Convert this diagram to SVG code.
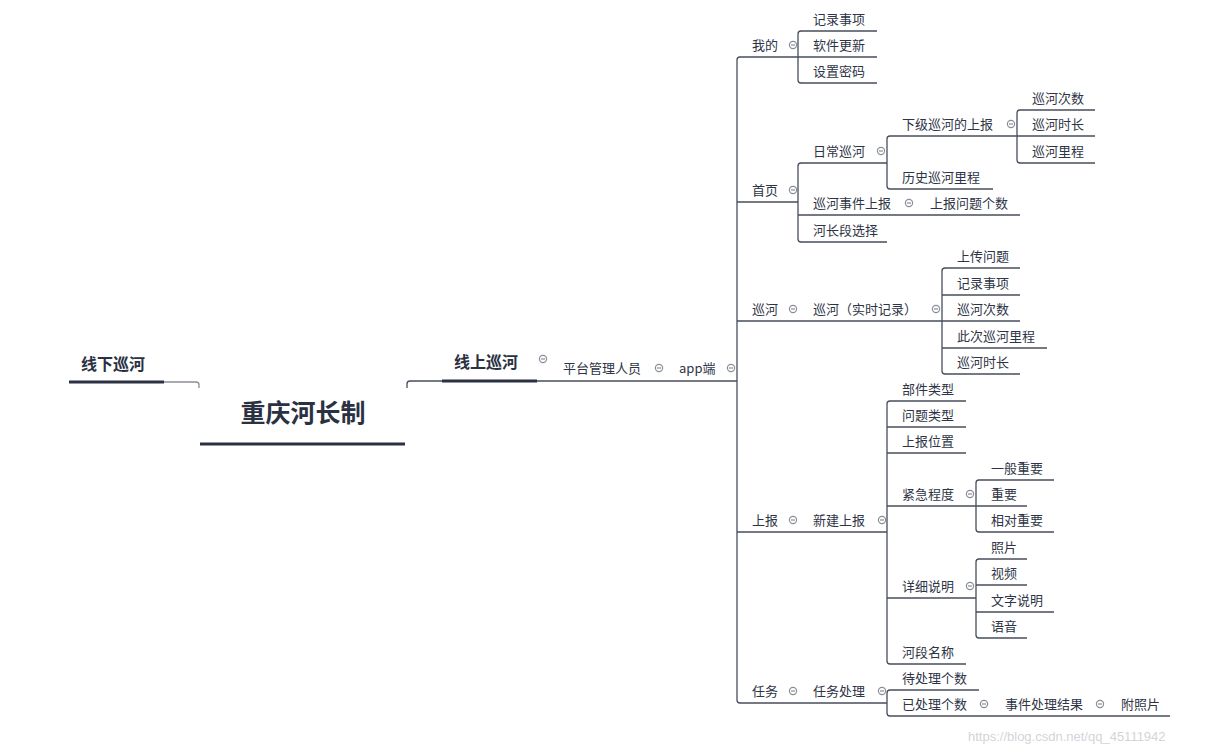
<svg xmlns="http://www.w3.org/2000/svg" width="1220" height="755" viewBox="0 0 1220 755">
<style>
text{font-family:"Noto Sans CJK SC","Liberation Sans",sans-serif;font-size:13px;fill:#2e3445}
.b{font-weight:bold;font-size:16px;fill:#2a3142}
.c{font-weight:bold;font-size:25px;fill:#2a3142}
.l{fill:none;stroke:#474d5c;stroke-width:1.3}
.t{fill:none;stroke:#2a3142;stroke-width:3}
.o{fill:#fff;stroke:#8a8e98;stroke-width:1.2}
.w{font-family:"Liberation Sans",sans-serif;font-size:13px;fill:#d4d4d8}
</style>
<defs>
<g id="m"><circle class="o" r="3.6"/><path d="M-2,0H2" stroke="#8a8e98" stroke-width="1.2"/></g>
</defs>
<rect width="1220" height="755" fill="#fff"/>
<g id="connectors">
<path class="t" d="M200,444H405"/>
<path class="t" d="M69,382H164"/>
<path d="M164,382H196Q199,382 199,385V388" fill="none" stroke="#8a8e98" stroke-width="1.3"/>
<path class="t" d="M442,381H537"/>
<path class="l" d="M407,388V384Q407,381 410,381H442M537,381H737"/>
<!-- app端 bracket -->
<path class="l" d="M737,60V700"/>
<path class="l" d="M737,60Q737,57 740,57H798M737,202H798M737,321H942M737,532H887M737,700Q737,703 740,703H887"/>
<!-- 我的 -->
<path class="l" d="M798,34V80M798,34Q798,31 801,31H877M798,57H877M798,80Q798,83 801,83H877"/>
<!-- 首页 -->
<path class="l" d="M798,166V239M798,166Q798,163 801,163H887M798,215H1020M798,239Q798,242 801,242H887"/>
<path class="l" d="M887,139V186M887,139Q887,136 890,136H1017M887,186Q887,189 890,189H993"/>
<path class="l" d="M1017,113V160M1017,113Q1017,110 1020,110H1095M1017,136H1095M1017,160Q1017,163 1020,163H1095"/>
<!-- 巡河 -->
<path class="l" d="M942,271V371M942,271Q942,268 945,268H1020M942,295H1020M942,321H1020M942,348H1047M942,371Q942,374 945,374H1020"/>
<!-- 上报 -->
<path class="l" d="M887,404V661M887,404Q887,401 890,401H966M887,427H966M887,453H966M887,506H976M887,598H976M887,661Q887,664 890,664H966"/>
<path class="l" d="M976,483V529M976,483Q976,480 979,480H1054M976,506H1027M976,529Q976,532 979,532H1054"/>
<path class="l" d="M976,562V635M976,562Q976,559 979,559H1027M976,585H1027M976,612H1054M976,635Q976,638 979,638H1027"/>
<!-- 任务 -->
<path class="l" d="M887,693V713M887,693Q887,690 890,690H979M887,713Q887,716 890,716H1170"/>
</g>
<g id="root"><text class="c" x="303" y="422" text-anchor="middle">重庆河长制</text></g>
<g id="offline"><text class="b" x="81" y="370">线下巡河</text></g>
<g id="online"><text class="b" x="454" y="368">线上巡河</text><use href="#m" x="543" y="359"/></g>
<g id="platform"><text x="563" y="373">平台管理人员</text><use href="#m" x="659" y="368"/></g>
<g id="app"><text x="679" y="373">app端</text><use href="#m" x="731" y="368"/></g>
<g id="wode"><text x="752" y="50">我的</text><use href="#m" x="793" y="45"/></g>
<g id="n1"><text x="813" y="24">记录事项</text></g>
<g id="n2"><text x="813" y="50">软件更新</text></g>
<g id="n3"><text x="813" y="76">设置密码</text></g>
<g id="shouye"><text x="752" y="195">首页</text><use href="#m" x="793" y="190"/></g>
<g id="richang"><text x="813" y="156">日常巡河</text><use href="#m" x="881" y="151"/></g>
<g id="xiaji"><text x="902" y="129">下级巡河的上报</text><use href="#m" x="1011" y="124"/></g>
<g id="n4"><text x="1032" y="103">巡河次数</text></g>
<g id="n5"><text x="1032" y="129">巡河时长</text></g>
<g id="n6"><text x="1032" y="156">巡河里程</text></g>
<g id="lishi"><text x="902" y="182">历史巡河里程</text></g>
<g id="shijian"><text x="813" y="208">巡河事件上报</text><use href="#m" x="909" y="203"/></g>
<g id="wenti"><text x="930" y="208">上报问题个数</text></g>
<g id="hezhang"><text x="813" y="235">河长段选择</text></g>
<g id="xunhe"><text x="752" y="314">巡河</text><use href="#m" x="793" y="309"/></g>
<g id="shishi"><text x="813" y="314">巡河（实时记录）</text><use href="#m" x="936" y="309"/></g>
<g id="n7"><text x="957" y="261">上传问题</text></g>
<g id="n8"><text x="957" y="288">记录事项</text></g>
<g id="n9"><text x="957" y="314">巡河次数</text></g>
<g id="n10"><text x="957" y="341">此次巡河里程</text></g>
<g id="n11"><text x="957" y="367">巡河时长</text></g>
<g id="shangbao"><text x="752" y="525">上报</text><use href="#m" x="793" y="520"/></g>
<g id="xinjian"><text x="813" y="525">新建上报</text><use href="#m" x="882" y="520"/></g>
<g id="n12"><text x="902" y="394">部件类型</text></g>
<g id="n13"><text x="902" y="420">问题类型</text></g>
<g id="n14"><text x="902" y="446">上报位置</text></g>
<g id="jinji"><text x="902" y="499">紧急程度</text><use href="#m" x="970" y="494"/></g>
<g id="n15"><text x="991" y="473">一般重要</text></g>
<g id="n16"><text x="991" y="499">重要</text></g>
<g id="n17"><text x="991" y="525">相对重要</text></g>
<g id="xiangxi"><text x="902" y="591">详细说明</text><use href="#m" x="970" y="586"/></g>
<g id="n18"><text x="991" y="552">照片</text></g>
<g id="n19"><text x="991" y="578">视频</text></g>
<g id="n20"><text x="991" y="605">文字说明</text></g>
<g id="n21"><text x="991" y="631">语音</text></g>
<g id="n22"><text x="902" y="657">河段名称</text></g>
<g id="renwu"><text x="752" y="696">任务</text><use href="#m" x="793" y="691"/></g>
<g id="chuli"><text x="813" y="696">任务处理</text><use href="#m" x="882" y="691"/></g>
<g id="n23"><text x="902" y="683">待处理个数</text></g>
<g id="yichuli"><text x="902" y="709">已处理个数</text><use href="#m" x="984" y="704"/></g>
<g id="jieguo"><text x="1005" y="709">事件处理结果</text><use href="#m" x="1100" y="704"/></g>
<g id="n24"><text x="1121" y="709">附照片</text></g>
<text class="w" x="968" y="741">https://blog.csdn.net/qq_45111942</text>
</svg>
